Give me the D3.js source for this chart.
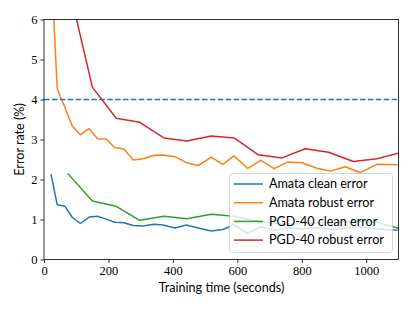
<!DOCTYPE html>
<html><head><meta charset="utf-8">
<script src="https://cdn.jsdelivr.net/npm/d3@7"></script>
<style>body{margin:0;background:#fff}svg{display:block}</style>
</head><body>
<script>
const amataTimes = [22,41,65,88,113,140,166,193,219,248,277,308,340,369,407,441,479,519,555,589,632,673,714,757,800,847,888,935,981,1033,1095];
const amataClean = [2.12,1.37,1.33,1.05,0.9,1.06,1.08,1.01,0.93,0.92,0.85,0.84,0.88,0.86,0.79,0.86,0.79,0.71,0.75,0.87,0.65,0.82,0.72,0.8,0.76,0.8,0.75,0.78,0.82,0.76,0.73];
const amataRobust = [7.4,4.27,3.8,3.33,3.12,3.27,3.02,3.01,2.8,2.76,2.49,2.52,2.6,2.61,2.57,2.42,2.35,2.56,2.38,2.59,2.28,2.48,2.27,2.44,2.42,2.28,2.21,2.32,2.17,2.38,2.37];
const pgdTimes = [75,150,224,297,372,443,519,590,664,738,811,883,960,1033,1100];
const pgdClean = [2.14,1.46,1.33,0.98,1.08,1.02,1.13,1.08,0.95,0.88,0.9,0.92,0.95,0.93,0.78];
const pgdRobust = [6.9,4.31,3.53,3.43,3.04,2.96,3.09,3.04,2.62,2.54,2.77,2.68,2.45,2.52,2.66];
const threshold = 4;
const xTicks = [0,200,400,600,800,1000];
const yTicks = [0,1,2,3,4,5,6];
const seriesNames = ["Amata clean error","Amata robust error","PGD-40 clean error","PGD-40 robust error"];
const colors = ["#1f77b4","#ff7f0e","#2ca02c","#d62728"];

const W=415,H=311;
const svg=d3.select("body").append("svg").attr("width",W).attr("height",H);
const x=d3.scaleLinear().domain([0,1100]).range([44,398.5]);
const y=d3.scaleLinear().domain([0,6]).range([259.5,19.5]);

svg.append("defs").append("clipPath").attr("id","clip").append("rect")
  .attr("x",44).attr("y",19.5).attr("width",354.5).attr("height",240);

const series=[
  {t:amataTimes,v:amataClean},
  {t:amataTimes,v:amataRobust},
  {t:pgdTimes,v:pgdClean},
  {t:pgdTimes,v:pgdRobust}
];
const line=d3.line().x(d=>x(d[0])).y(d=>y(d[1]));
const g=svg.append("g").attr("clip-path","url(#clip)");
series.forEach((s,i)=>{
  g.append("path").datum(s.t.map((t,j)=>[t,s.v[j]]))
    .attr("d",line).attr("fill","none").attr("stroke",colors[i])
    .attr("stroke-width",1.5).attr("stroke-linejoin","round").attr("stroke-linecap","square");
});
g.append("line").attr("x1",x(0)).attr("x2",x(1100)).attr("y1",y(threshold)).attr("y2",y(threshold))
  .attr("stroke",colors[0]).attr("stroke-width",1.5).attr("stroke-dasharray","5.5,2.4");

// axes
const xa=svg.append("g").attr("transform","translate(0,259.5)")
  .call(d3.axisBottom(x).tickValues(xTicks).tickSize(3.5).tickPadding(3).tickFormat(d3.format("d")));
const ya=svg.append("g").attr("transform","translate(44,0)")
  .call(d3.axisLeft(y).tickValues(yTicks).tickSize(3.5).tickPadding(3).tickFormat(d3.format("d")));
[xa,ya].forEach(a=>{
  a.select(".domain").remove();
  a.selectAll("line").attr("stroke","#000").attr("stroke-width",0.8);
  a.selectAll("text").attr("font-family","'Liberation Serif','DejaVu Serif',serif").attr("font-size",12.5).attr("fill","#000");
});
// spines
svg.append("rect").attr("x",44).attr("y",19.5).attr("width",354.5).attr("height",240)
  .attr("fill","none").attr("stroke","#000").attr("stroke-width",0.8);

const sans="Lato, 'DejaVu Sans', sans-serif";
svg.append("text").attr("x",221.5).attr("y",292).attr("text-anchor","middle")
  .attr("font-family",sans).attr("font-size",12.6).text("Training time (seconds)");
svg.append("text").attr("transform","translate(24,139.5) rotate(-90)").attr("text-anchor","middle")
  .attr("font-family",sans).attr("font-size",12.6).text("Error rate (%)");

// legend
const lg=svg.append("g");
lg.append("rect").attr("x",229.5).attr("y",173.5).attr("width",163).attr("height",79).attr("rx",3)
  .attr("fill","#fff").attr("fill-opacity",0.8).attr("stroke","#ccc").attr("stroke-width",0.8);
seriesNames.forEach((n,i)=>{
  const yy=184+i*18.7;
  lg.append("line").attr("x1",234).attr("x2",263).attr("y1",yy).attr("y2",yy)
    .attr("stroke",colors[i]).attr("stroke-width",1.5);
  lg.append("text").attr("x",269).attr("y",yy+4.3).attr("font-family",sans)
    .attr("font-size",12.6).text(n);
});
</script>
</body></html>
